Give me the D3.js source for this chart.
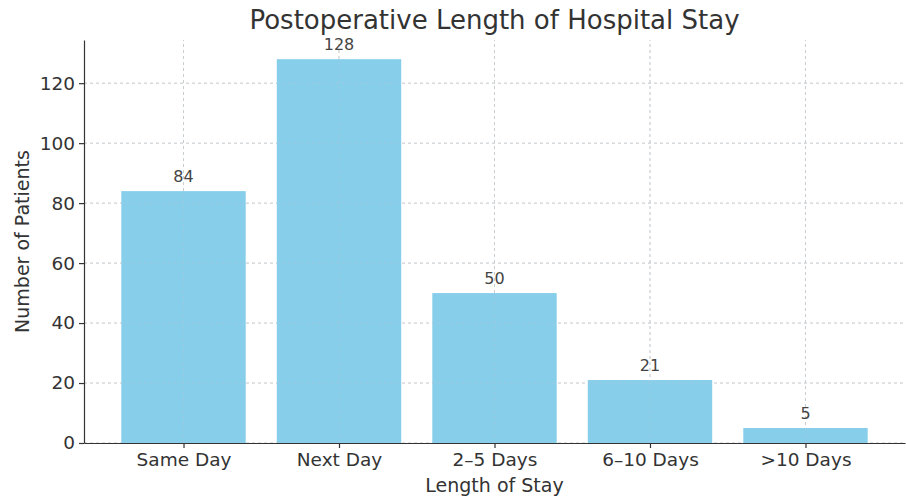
<!DOCTYPE html>
<html>
<head>
<meta charset="utf-8">
<script src="https://cdn.jsdelivr.net/npm/d3@7"></script>
<style>
  html, body { margin: 0; padding: 0; background: #fff; }
  svg { display: block; font-family: "DejaVu Sans", sans-serif; }
  .tick text { fill: #333; }
</style>
</head>
<body>
<svg id="chart" width="906" height="499"></svg>
<script>
// Length-of-stay categories and patient counts
const categories = ["Same Day", "Next Day", "2–5 Days", "6–10 Days", ">10 Days"];
const patients = [84, 128, 50, 21, 5];
const yTicks = [0, 20, 40, 60, 80, 100, 120];

const width = 906, height = 499;
const margin = { top: 40, right: 1, bottom: 56, left: 84 };
const svg = d3.select("#chart");

const n = categories.length;
const pad = 0.64; // margin around the bar extents
const x = d3.scaleLinear()
  .domain([-pad, n - 1 + pad])
  .range([margin.left, width - margin.right]);
const y = d3.scaleLinear()
  .domain([0, d3.max(patients) * 1.05])
  .range([height - margin.bottom, margin.top]);

const barW = x(0.8) - x(0);

// dashed grid behind the bars
const grid = svg.append("g").attr("stroke", "#c8c8c8").attr("stroke-dasharray", "3,3").attr("stroke-width", 0.8);
grid.selectAll("line.h").data(yTicks).join("line")
  .attr("x1", x.range()[0]).attr("x2", x.range()[1])
  .attr("y1", d => y(d)).attr("y2", d => y(d));
grid.selectAll("line.v").data(d3.range(n)).join("line")
  .attr("x1", d => x(d)).attr("x2", d => x(d))
  .attr("y1", y.range()[0]).attr("y2", y.range()[1]);

// bars
svg.append("g").selectAll("rect").data(patients).join("rect")
  .attr("x", (d, i) => x(i) - barW / 2)
  .attr("width", barW)
  .attr("y", d => y(d))
  .attr("height", d => y(0) - y(d))
  .attr("fill", "#87ceeb");

// faint grid over the bars
const grid2 = svg.append("g").attr("stroke", "#b8c8d0").attr("stroke-dasharray", "3,3").attr("stroke-width", 0.6).attr("opacity", 0.6);
grid2.selectAll("line.h").data(yTicks).join("line")
  .attr("x1", x.range()[0]).attr("x2", x.range()[1])
  .attr("y1", d => y(d)).attr("y2", d => y(d));
grid2.selectAll("line.v").data(d3.range(n)).join("line")
  .attr("x1", d => x(d)).attr("x2", d => x(d))
  .attr("y1", y.range()[0]).attr("y2", y.range()[1]);

// value labels
svg.append("g").selectAll("text").data(patients).join("text")
  .attr("x", (d, i) => x(i))
  .attr("y", d => y(d) - 9)
  .attr("text-anchor", "middle")
  .attr("font-size", 16)
  .attr("fill", "#444")
  .text(d => d);

// axes
const xAxis = svg.append("g")
  .attr("transform", `translate(0,${y(0)})`)
  .call(d3.axisBottom(x).tickValues(d3.range(n)).tickFormat(i => categories[i]).tickSize(5).tickSizeOuter(0).tickPadding(3));
const yAxis = svg.append("g")
  .attr("transform", `translate(${margin.left},0)`)
  .call(d3.axisLeft(y).tickValues(yTicks).tickSize(5).tickSizeOuter(0).tickPadding(4));

[xAxis, yAxis].forEach(a => {
  a.selectAll(".tick text").attr("font-size", 18.5).attr("font-family", "DejaVu Sans, sans-serif");
  a.selectAll("path.domain, .tick line").attr("stroke", "#333").attr("stroke-width", 1.2);
});
xAxis.selectAll(".tick text").attr("dy", "0.8em");

// titles
svg.append("text")
  .attr("x", (x.range()[0] + x.range()[1]) / 2)
  .attr("y", 29)
  .attr("text-anchor", "middle")
  .attr("font-size", 26)
  .attr("fill", "#333")
  .text("Postoperative Length of Hospital Stay");

svg.append("text")
  .attr("x", (x.range()[0] + x.range()[1]) / 2)
  .attr("y", 492)
  .attr("text-anchor", "middle")
  .attr("font-size", 19)
  .attr("fill", "#333")
  .text("Length of Stay");

svg.append("text")
  .attr("transform", `translate(29,${(y.range()[0] + y.range()[1]) / 2}) rotate(-90)`)
  .attr("text-anchor", "middle")
  .attr("font-size", 19)
  .attr("fill", "#333")
  .text("Number of Patients");
</script>
</body>
</html>
